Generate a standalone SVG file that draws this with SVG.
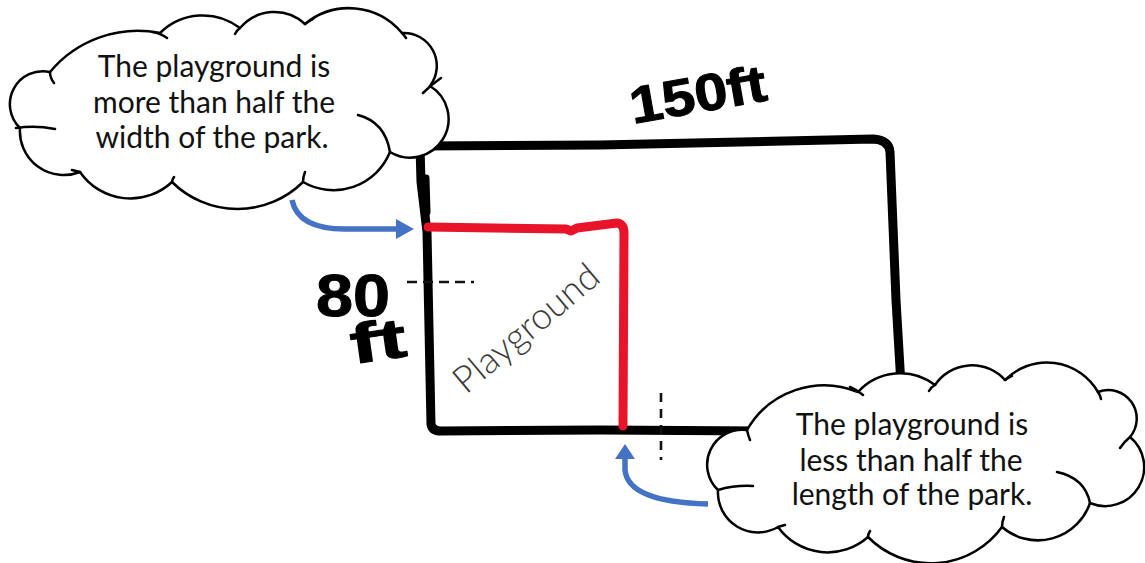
<svg xmlns="http://www.w3.org/2000/svg" width="1145" height="563" viewBox="0 0 1145 563">
<style>
.park{fill:none;stroke:#000;stroke-width:9;stroke-linecap:round;stroke-linejoin:round}
.play{fill:none;stroke:#E8142A;stroke-width:9;stroke-linecap:round;stroke-linejoin:round}
.dash{fill:none;stroke:#111;stroke-width:2.6;stroke-dasharray:10 6}
.cloud{fill:#fff;stroke:#000;stroke-width:2.5;stroke-linejoin:round}
.inner{fill:none;stroke:#000;stroke-width:2.5;stroke-linecap:round}
.ctext{font-family:Lato,"Open Sans",sans-serif;font-size:30px;fill:#111;text-anchor:middle}
.hand{font-family:"Liberation Sans",Arial,sans-serif;font-weight:bold;fill:#000;stroke:#000;stroke-width:1;stroke-linejoin:round}
.arrow{fill:none;stroke:#4472C4;stroke-width:5.5}
.head{fill:#4472C4}
</style>
<rect width="1145" height="563" fill="#fff"/>
<g id="park">
<path class="park" d="M420,146 L600,145 L873,139 Q889,140 890,152 L896,300 L901,385"/>
<path class="park" d="M420,146 L421,182 L427,232 L431,424 Q432,431 441,431 L600,430 L770,431"/>
<path class="park" d="M426,178 L427,212" style="stroke-width:7"/>
</g>
<g id="playground">
<path class="play" d="M428,227 L566,229 L571,231 L577,228 L617,223 Q624,224 624,233 L623,426"/>
<text transform="translate(466,395) rotate(-40)" style="font-family:Lato,'Open Sans',sans-serif;font-weight:300;font-size:37px;fill:#3a3a3a" textLength="178" lengthAdjust="spacingAndGlyphs">Playground</text>
</g>
<g id="dims">
<path class="dash" d="M407,282 L474,282"/>
<path class="dash" d="M661,393 L661,460" style="stroke-dasharray:9 7"/>
<text class="hand" transform="translate(633,124) rotate(-10)" style="font-size:52px" textLength="138" lengthAdjust="spacingAndGlyphs">150ft</text>
<text class="hand" x="316" y="316" style="font-size:60px" textLength="74" lengthAdjust="spacingAndGlyphs">80</text>
<text class="hand" transform="translate(353,364) rotate(-8)" style="font-size:56px" textLength="56" lengthAdjust="spacingAndGlyphs">ft</text>
</g>
<g id="connectors">
<path class="arrow" d="M292,200 Q298,229 345,229 L398,229"/>
<polygon class="head" points="396,219 414,229 396,239"/>
<path class="arrow" d="M708,504 Q628,502 625,470 L625,457"/>
<polygon class="head" points="615,459 625,444 635,459"/>
</g>
<g id="cloud-width">
<path class="cloud" d="M50,72 A114,114 0 0 1 160,33 A61,61 0 0 1 240,28 A45,45 0 0 1 305,24 A69,69 0 0 1 402,33 A33,33 0 0 1 430,86 A38,38 0 0 1 390,152 A61,61 0 0 1 303,182 A93,93 0 0 1 172,182 A61,61 0 0 1 80,172 A44,44 0 0 1 20,128 A33,33 0 0 1 50,72 Z"/>
<path class="inner" d="M50,72 Q50,78 54,83 M153,32 Q160,33 167,38 M240,28 Q237,30 235,34 M305,24 Q309,21 313,19 M402,33 Q404,35 406,38 M423,93 Q432,84 441,78 M358,115 Q385,122 390,152 M303,182 Q303,177 305,172 M172,182 Q172,180 174,177 M80,172 Q76,171 72,170 M16,128 Q35,125 55,129"/>
<text class="ctext" x="214" y="77">The playground is</text>
<text class="ctext" x="214" y="113">more than half the</text>
<text class="ctext" x="212" y="148">width of the park.</text>
</g>
<g id="cloud-length">
<path class="cloud" d="M747,430 A89,89 0 0 1 858,392 A57,57 0 0 1 935,385 A44.5,44.5 0 0 1 1005,380 A59,59 0 0 1 1098,392 A28.5,28.5 0 0 1 1130,437 A39,39 0 0 1 1090,503 A55,55 0 0 1 1002,527 A88,88 0 0 1 868,537 A61,61 0 0 1 778,527 A40,40 0 0 1 718,490 A35,35 0 0 1 747,430 Z"/>
<path class="inner" d="M850,387 Q857,390 863,395 M935,385 Q931,387 929,391 M1005,380 Q1008,378 1012,376 M1098,392 Q1100,395 1101,399 M1130,437 Q1124,442 1120,448 M1057,472 Q1085,478 1090,503 M1002,527 Q1002,522 1004,517 M868,537 Q868,534 870,531 M778,527 Q781,526 785,525 M718,490 Q735,485 753,486 M747,430 Q748,435 750,440"/>
<text class="ctext" x="912" y="435">The playground is</text>
<text class="ctext" x="911" y="471">less than half the</text>
<text class="ctext" x="912" y="505">length of the park.</text>
</g>
</svg>
